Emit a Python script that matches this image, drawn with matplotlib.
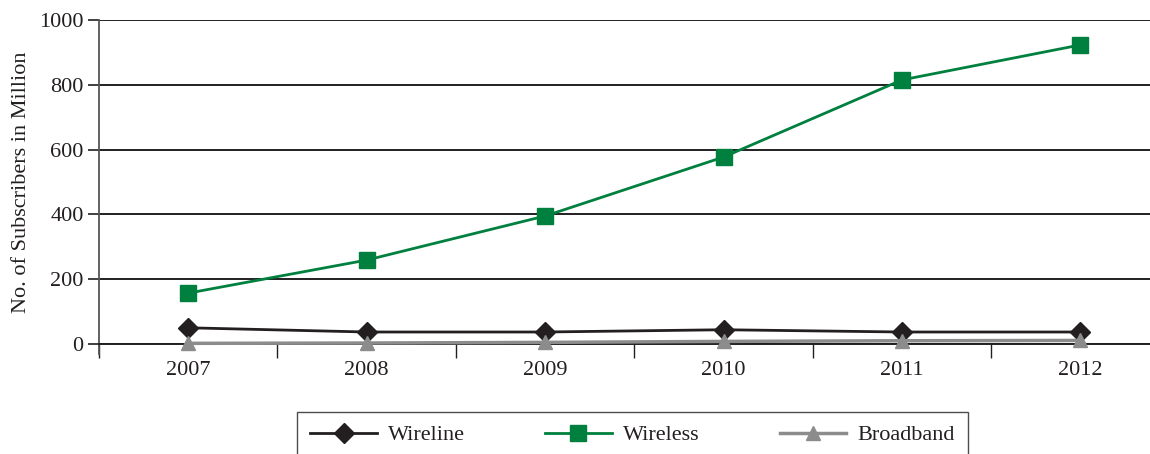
import matplotlib
matplotlib.use('Agg')
import matplotlib.pyplot as plt
import numpy as np

years = ['2007', '2008', '2009', '2010', '2011', '2012']
wireline = [50, 37, 37, 44, 37, 37]
wireless = [157, 259, 395, 577, 815, 923]
broadband = [2, 3, 5, 8, 10, 11]

plt.rcParams['font.family'] = ['Liberation Serif', 'DejaVu Serif']

fig = plt.figure(figsize=(11.5, 4.54), dpi=100)
ax = fig.add_axes([0.0861, 0.2423, 1 - 0.0861, 0.956 - 0.2423])

x = np.arange(len(years))
ax.plot(x, wireline, color='#231f20', lw=2, marker='D', markersize=10, label='Wireline', zorder=5)
ax.plot(x, wireless, color='#00803f', lw=2, marker='s', markersize=11, label='Wireless', zorder=5)
ax.plot(x, broadband, color='#8c8c8c', lw=2.5, marker='^', markersize=10, label='Broadband',
        zorder=6, clip_on=False)

ax.set_xlim(-0.5, 5.39)
ax.set_ylim(0, 1000)
ax.set_yticks(np.arange(0, 1001, 200))
ax.yaxis.grid(True, color='#231f20', lw=1.4)
ax.set_axisbelow(True)

ax.set_xticks(np.arange(-0.5, 5, 1))
ax.set_xticklabels([])
ax.set_xticks(x, minor=True)
ax.set_xticklabels(years, minor=True)
ax.tick_params(axis='x', which='major', length=10, width=1, color='#231f20', direction='out')
ax.tick_params(axis='x', which='minor', length=0, pad=12, labelsize=16, labelcolor='#231f20')
ax.tick_params(axis='y', length=8, width=1.2, color='#231f20', labelsize=16, labelcolor='#231f20', pad=3)

for s in ['top', 'right']:
    ax.spines[s].set_visible(False)
ax.spines['left'].set_color('#555555')
ax.spines['left'].set_linewidth(1.3)
ax.spines['left'].set_bounds(-30, 1000)
ax.spines['bottom'].set_color('#231f20')
ax.spines['bottom'].set_linewidth(1.4)
ax.spines['bottom'].set_zorder(3)

ax.set_ylabel('No. of Subscribers in Million', fontsize=16, color='#231f20', labelpad=6)

leg = fig.legend(loc='upper center', bbox_to_anchor=(0.55, 0.118), ncol=3, fontsize=16,
                 frameon=True, fancybox=False, edgecolor='#231f20', handlelength=3.0,
                 columnspacing=3.6, borderpad=0.6, handletextpad=0.5)
leg.get_frame().set_linewidth(1.0)
leg.get_frame().set_boxstyle('square', pad=0.0)
for t in leg.get_texts():
    t.set_color('#231f20')

fig.savefig('out.png', dpi=100)
